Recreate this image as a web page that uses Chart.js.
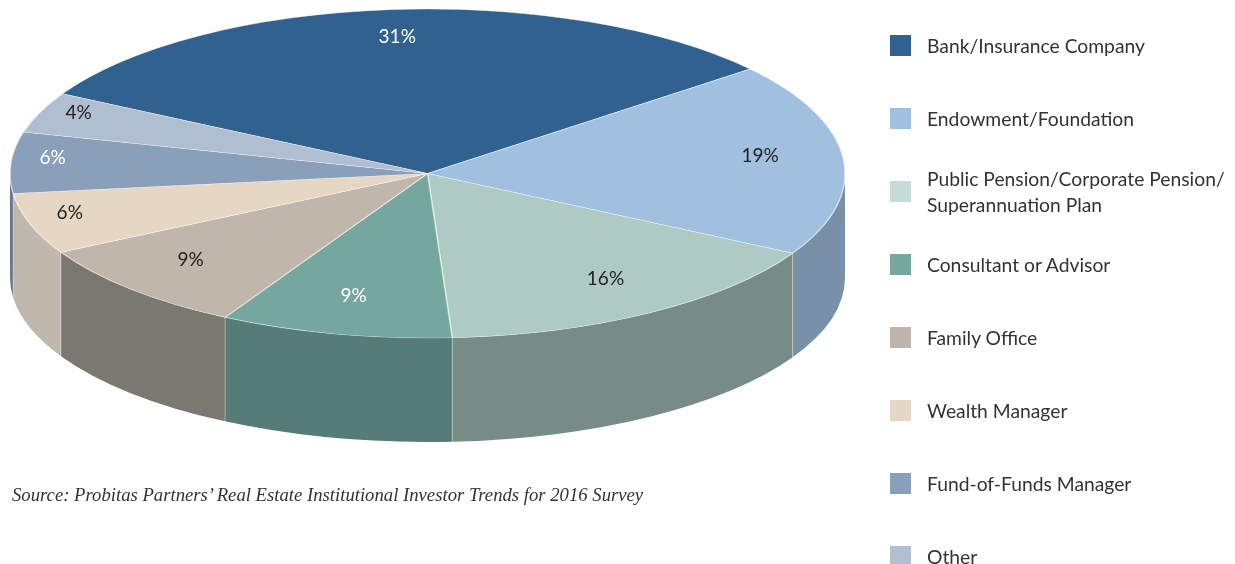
<!DOCTYPE html>
<html>
<head>
<meta charset="utf-8">
<title>Investor types</title>
<script src="https://cdn.jsdelivr.net/npm/chart.js@4.4.1/dist/chart.umd.min.js"></script>
<style>
    html, body { margin: 0; padding: 0; background: #fff; }
    #wrap { position: relative; width: 1235px; height: 564px; overflow: hidden; }
    #pieChart { position: absolute; left: 0; top: 0; }
    #legend { position: absolute; left: 890px; top: 0; font-family: Lato, 'Noto Sans', sans-serif; font-size: 19.3px; color: #333; }
    .item { position: absolute; left: 0; display: flex; align-items: center; transform: translateY(-50%); }
    .box { width: 21px; height: 21px; flex: none; }
    .label { margin-left: 16px; line-height: 26px; white-space: pre; }
    #source { position: absolute; left: 12px; top: 484px; font-family: 'Liberation Serif', serif; font-style: italic; font-size: 18.7px; color: #333; white-space: nowrap; }
</style>
</head>
<body>
<div id="wrap">
    <canvas id="pieChart" width="1235" height="564"></canvas>
    <div id="legend"></div>
    <div id="source">Source: Probitas Partners’ Real Estate Institutional Investor Trends for 2016 Survey</div>
</div>
<script>
const categories = [
    'Bank/Insurance Company',
    'Endowment/Foundation',
    'Public Pension/Corporate Pension/\nSuperannuation Plan',
    'Consultant or Advisor',
    'Family Office',
    'Wealth Manager',
    'Fund-of-Funds Manager',
    'Other'
];
const shares = [31, 19, 16, 9, 9, 6, 6, 4];

const sliceColors = ['#31618f', '#a1bfdf', '#aecac5', '#75a79f', '#c0b6ab', '#e6d7c4', '#8a9fb9', '#b0bed1'];
const sideColors = ['#23466a', '#7890a8', '#778c87', '#557c77', '#7b7872', '#c0b7ad', '#68788c', '#84909e'];
const legendColors = ['#31618f', '#a1bfdf', '#c7dcd7', '#76a8a0', '#bfb5ab', '#e6d8c6', '#8a9fb9', '#b0bfd1'];
const labelColors = ['#fff', '#222', '#222', '#fff', '#222', '#222', '#fff', '#222'];

// tilted pie geometry: top face ellipse and wall height
const CX = 427.5, CY = 173.5, RX = 417.5, RY = 164.5, DEPTH = 104;

const tiltPlugin = {
    id: 'tilt',
    beforeDatasetsDraw: function(chart) {
        const ctx = chart.ctx;
        const arcs = chart.getDatasetMeta(0).data;

        // side walls, only the front half is visible
        arcs.forEach(function(arc, i) {
            [-2 * Math.PI, 0, 2 * Math.PI].forEach(function(shift) {
                const lo = Math.max(arc.startAngle, shift);
                const hi = Math.min(arc.endAngle, shift + Math.PI);
                if (hi <= lo) return;
                ctx.beginPath();
                ctx.ellipse(CX, CY, RX, RY, 0, lo, hi);
                ctx.ellipse(CX, CY + DEPTH, RX, RY, 0, hi, lo, true);
                ctx.closePath();
                ctx.fillStyle = sideColors[i];
                ctx.fill();
            });
        });

        // thin seams where slices meet on the wall
        ctx.strokeStyle = 'rgba(255,255,255,0.35)';
        ctx.lineWidth = 1;
        arcs.forEach(function(arc) {
            const a = arc.startAngle;
            if (Math.sin(a) > 0.02) {
                const x = CX + RX * Math.cos(a);
                const y = CY + RY * Math.sin(a);
                ctx.beginPath();
                ctx.moveTo(x, y);
                ctx.lineTo(x, y + DEPTH);
                ctx.stroke();
            }
        });

        const first = arcs[0];
        const R = first.outerRadius;
        ctx.save();
        ctx.translate(CX, CY);
        ctx.scale(RX / R, RY / R);
        ctx.translate(-first.x, -first.y);
    },
    afterDatasetsDraw: function(chart) {
        const ctx = chart.ctx;
        ctx.restore();

        const arcs = chart.getDatasetMeta(0).data;
        ctx.font = '19px Lato, "Noto Sans", sans-serif';
        ctx.textAlign = 'center';
        ctx.textBaseline = 'middle';
        arcs.forEach(function(arc, i) {
            const mid = (arc.startAngle + arc.endAngle) / 2;
            const f = shares[i] < 7 ? 0.9 : 0.8;
            const x = CX + RX * f * Math.cos(mid);
            const y = CY + RY * f * Math.sin(mid) - 6;
            ctx.fillStyle = labelColors[i];
            ctx.fillText(shares[i] + '%', x, y);
        });
    }
};

const ctx = document.getElementById('pieChart').getContext('2d');
const pieChart = new Chart(ctx, {
    type: 'pie',
    data: {
        labels: categories,
        datasets: [{
            data: shares,
            backgroundColor: sliceColors,
            borderColor: 'rgba(255,255,255,0.55)',
            borderWidth: 1
        }]
    },
    options: {
        responsive: false,
        animation: false,
        devicePixelRatio: 1,
        rotation: -61,
        layout: { padding: 0 },
        plugins: {
            legend: { display: false },
            tooltip: { enabled: false }
        }
    },
    plugins: [tiltPlugin]
});

// legend on the right
const legend = document.getElementById('legend');
categories.forEach(function(name, i) {
    const item = document.createElement('div');
    item.className = 'item';
    item.style.top = (34 + i * 73 + 11.5) + 'px';
    const box = document.createElement('div');
    box.className = 'box';
    box.style.background = legendColors[i];
    const label = document.createElement('div');
    label.className = 'label';
    label.textContent = name;
    item.appendChild(box);
    item.appendChild(label);
    legend.appendChild(item);
});
</script>
</body>
</html>
